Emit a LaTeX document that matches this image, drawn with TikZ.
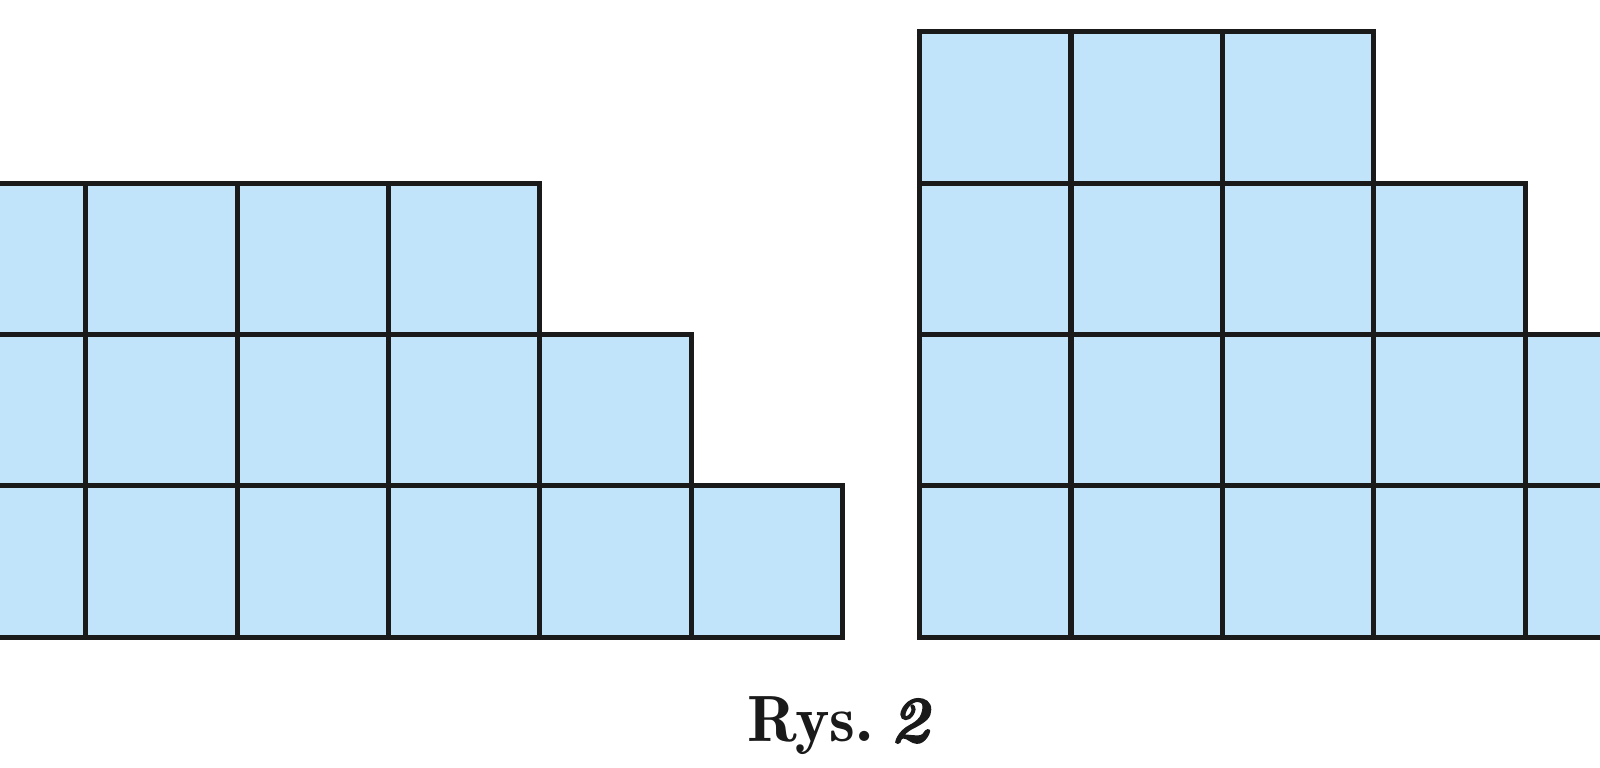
\documentclass[tikz,border=0pt]{standalone}
\definecolor{cellblue}{RGB}{194,228,250}
\definecolor{gridline}{RGB}{26,26,26}
\tikzset{cell/.style={fill=cellblue,draw=gridline,line width=1.45pt,line join=miter}}
\newcommand{\cellsz}{151.4}
\font\captwo="[lmroman10-bolditalic.otf]:embolden=2.5" at 18.6pt
\begin{document}
\begin{tikzpicture}[x=0.01cm,y=-0.01cm]
\useasboundingbox (0,0) rectangle (1600,768);
\begin{scope}
\clip (0,0) rectangle (1600,768);
% left figure
\foreach \r/\n in {0/6,1/5,2/4}{
  \foreach \c in {1,...,\n}{
    \draw[cell] ({-65.7+(\c-1)*\cellsz},{637.3-\r*\cellsz}) rectangle ++(\cellsz,-\cellsz);
  }
}
% right figure
\foreach \r/\n in {0/5,1/5,2/4,3/3}{
  \foreach \c in {1,...,\n}{
    \draw[cell] ({919.6+(\c-1)*\cellsz},{637.3-\r*\cellsz}) rectangle ++(\cellsz,-\cellsz);
  }
}
\end{scope}
\node[anchor=base,inner sep=0pt,text=gridline] (cap) at (838,742) {\fontsize{18.6}{22}\selectfont{\fontseries{b}\selectfont Rys.}\hspace{0.25em}{\captwo 2}};
\end{tikzpicture}
\end{document}
